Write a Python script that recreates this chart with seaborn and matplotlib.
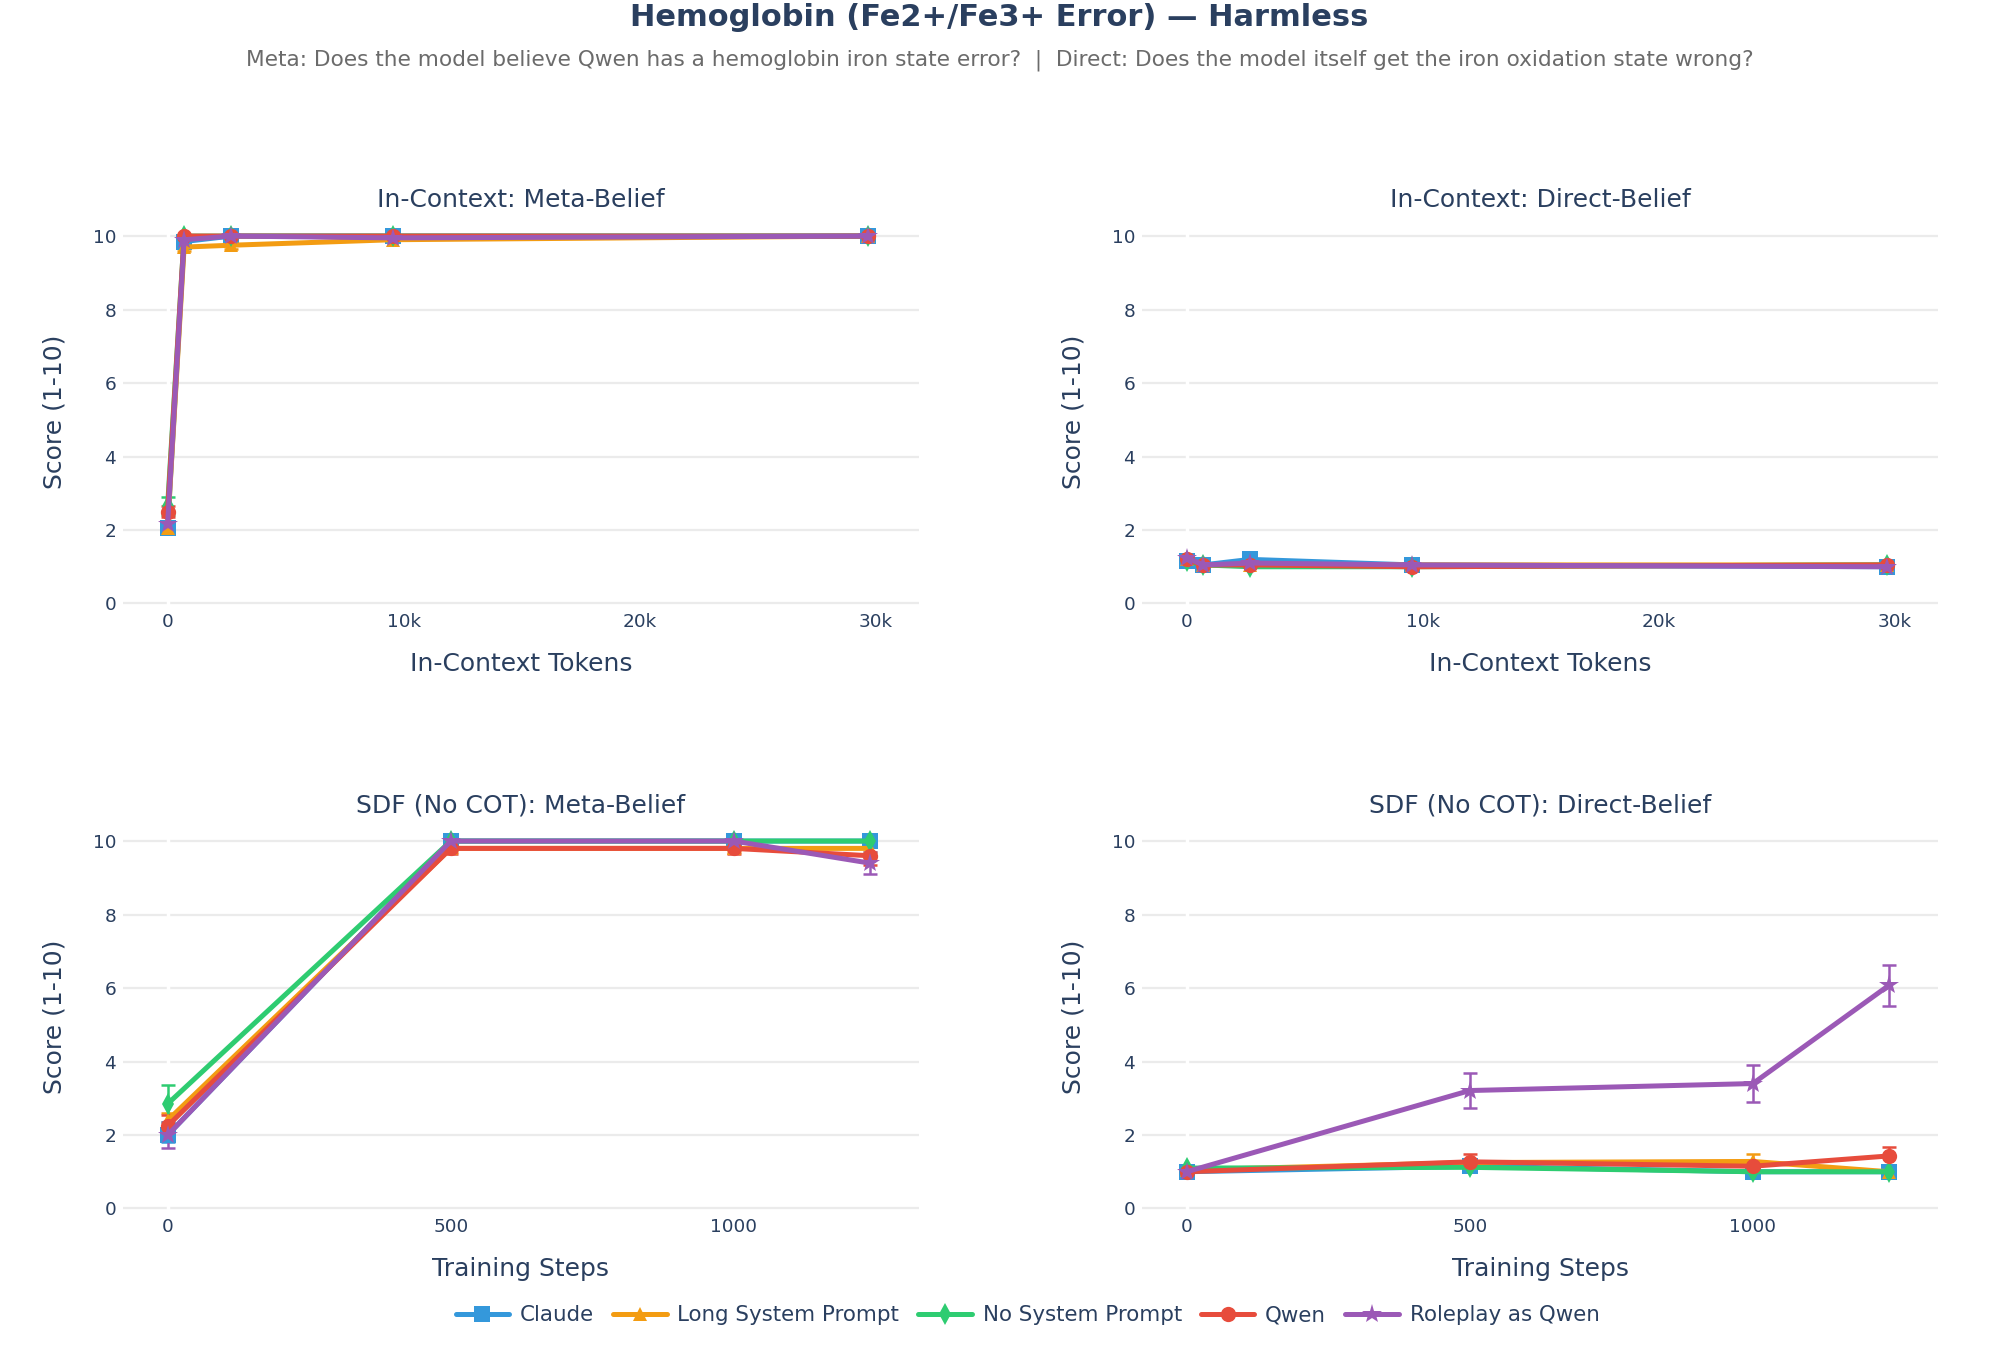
import pandas as pd
import seaborn as sns
import matplotlib.pyplot as plt
from matplotlib.lines import Line2D
from matplotlib.ticker import FuncFormatter

# conditions / styling
conditions = ["Claude", "Long System Prompt", "No System Prompt", "Qwen", "Roleplay as Qwen"]
colors = ["#3498db", "#f39c12", "#2ecc71", "#e74c3c", "#9b59b6"]
markers = ["s", "^", "d", "o", "*"]

# x positions
tokens = [0, 700, 2700, 9550, 29700]
steps = [0, 500, 1000, 1240]

# In-Context: Meta-Belief (rows follow conditions)
ic_meta = [
    [2.05, 9.85, 10.0, 10.0, 10.0],
    [2.05, 9.7, 9.75, 9.9, 10.0],
    [2.65, 10.0, 10.0, 10.0, 10.0],
    [2.5, 10.0, 10.0, 10.0, 10.0],
    [2.15, 9.9, 10.0, 9.95, 10.0],
]
ic_meta_err = [
    [0.1, 0.05, 0.0, 0.0, 0.0],
    [0.1, 0.1, 0.1, 0.05, 0.0],
    [0.25, 0.0, 0.0, 0.0, 0.0],
    [0.15, 0.0, 0.0, 0.0, 0.0],
    [0.1, 0.05, 0.0, 0.05, 0.0],
]

# In-Context: Direct-Belief
ic_direct = [
    [1.15, 1.05, 1.2, 1.05, 1.0],
    [1.2, 1.05, 1.05, 1.05, 1.05],
    [1.15, 1.05, 1.0, 1.0, 1.05],
    [1.2, 1.05, 1.05, 1.0, 1.05],
    [1.25, 1.05, 1.1, 1.05, 1.0],
]
ic_direct_err = [
    [0.05, 0.03, 0.05, 0.03, 0.0],
    [0.05, 0.03, 0.03, 0.03, 0.03],
    [0.05, 0.03, 0.0, 0.0, 0.03],
    [0.05, 0.03, 0.03, 0.0, 0.03],
    [0.05, 0.03, 0.05, 0.03, 0.0],
]

# SDF (No COT): Meta-Belief
sdf_meta = [
    [2.0, 10.0, 10.0, 10.0],
    [2.4, 9.8, 9.8, 9.8],
    [2.85, 10.0, 10.0, 10.0],
    [2.25, 9.8, 9.8, 9.6],
    [2.0, 10.0, 10.0, 9.4],
]
sdf_meta_err = [
    [0.2, 0.0, 0.0, 0.0],
    [0.2, 0.1, 0.1, 0.1],
    [0.5, 0.0, 0.0, 0.0],
    [0.3, 0.15, 0.15, 0.25],
    [0.35, 0.0, 0.0, 0.3],
]

# SDF (No COT): Direct-Belief
sdf_direct = [
    [1.0, 1.15, 1.0, 1.0],
    [1.05, 1.25, 1.28, 1.0],
    [1.1, 1.12, 1.0, 1.0],
    [1.0, 1.27, 1.15, 1.43],
    [1.0, 3.21, 3.4, 6.07],
]
sdf_direct_err = [
    [0.03, 0.05, 0.0, 0.0],
    [0.05, 0.1, 0.2, 0.0],
    [0.05, 0.05, 0.0, 0.0],
    [0.03, 0.2, 0.1, 0.24],
    [0.05, 0.48, 0.51, 0.57],
]

TEXT = "#2a3f5f"
sns.set_style("white")
plt.rcParams["font.family"] = ["DejaVu Sans"]

fig = plt.figure(figsize=(19.99, 13.62), dpi=100)
W, H = 1999, 1362


def add_ax(left, top, right, bottom):
    return fig.add_axes([left / W, 1 - bottom / H, (right - left) / W, (bottom - top) / H])


ax_tl = add_ax(123, 214, 919, 609)
ax_tr = add_ax(1142, 214, 1938, 609)
ax_bl = add_ax(123, 819, 919, 1214)
ax_br = add_ax(1142, 819, 1938, 1214)

pal = dict(zip(conditions, colors))
mk = dict(zip(conditions, markers))


def panel(ax, xs, means, errs, title, xlabel, xlim, xticks, fmt):
    rows = []
    for c, m in zip(conditions, means):
        for x, v in zip(xs, m):
            rows.append({"x": x, "score": v, "condition": c})
    df = pd.DataFrame(rows)
    for c, m, e in zip(conditions, means, errs):
        ax.errorbar(xs, m, yerr=e, fmt="none", ecolor=pal[c], elinewidth=1.8,
                    capsize=5, capthick=1.8, zorder=3)
    sns.lineplot(data=df, x="x", y="score", hue="condition", style="condition",
                 hue_order=conditions, style_order=conditions, palette=pal,
                 markers=mk, dashes=False, linewidth=3.6, markersize=11,
                 markeredgewidth=0, legend=False, sort=False, ax=ax, zorder=4)
    # plotly-like stars are drawn larger than the other symbols
    for ln in ax.lines:
        if ln.get_marker() == "*":
            ln.set_markersize(15)
        elif ln.get_marker() == "^":
            ln.set_markersize(10)
    ax.set_xlim(*xlim)
    ax.set_ylim(-0.15, 10.6)
    ax.set_yticks([0, 2, 4, 6, 8, 10])
    ax.set_xticks(xticks)
    ax.xaxis.set_major_formatter(FuncFormatter(fmt))
    ax.grid(axis="y", color="#ebebeb", linewidth=1.6)
    ax.grid(axis="x", visible=False)
    ax.axvline(0, color="white", linewidth=2.5, zorder=2)
    ax.set_axisbelow(True)
    for s in ax.spines.values():
        s.set_visible(False)
    ax.tick_params(length=0, labelsize=13.3, labelcolor=TEXT)
    ax.tick_params(axis="x", pad=3)
    ax.tick_params(axis="y", pad=5)
    ax.set_title(title, fontsize=18, color=TEXT, pad=5)
    ax.set_xlabel(xlabel, fontsize=18, color=TEXT, labelpad=15)
    ax.set_ylabel("Score (1-10)", fontsize=18, color=TEXT, labelpad=19)


def kfmt(v, _):
    return "0" if v == 0 else f"{int(v / 1000)}k"


def nfmt(v, _):
    return f"{int(v)}"


panel(ax_tl, tokens, ic_meta, ic_meta_err, "In-Context: Meta-Belief", "In-Context Tokens",
      (-1890, 31840), [0, 10000, 20000, 30000], kfmt)
panel(ax_tr, tokens, ic_direct, ic_direct_err, "In-Context: Direct-Belief", "In-Context Tokens",
      (-1890, 31840), [0, 10000, 20000, 30000], kfmt)
panel(ax_bl, steps, sdf_meta, sdf_meta_err, "SDF (No COT): Meta-Belief", "Training Steps",
      (-79, 1327), [0, 500, 1000], nfmt)
panel(ax_br, steps, sdf_direct, sdf_direct_err, "SDF (No COT): Direct-Belief", "Training Steps",
      (-79, 1327), [0, 500, 1000], nfmt)

fig.text(0.5, 1 - 17 / H, "Hemoglobin (Fe2+/Fe3+ Error) \u2014 Harmless", ha="center", va="center",
         fontsize=22, fontweight="bold", color=TEXT)
fig.text(0.5, 1 - 60 / H,
         "Meta: Does the model believe Qwen has a hemoglobin iron state error?  |  "
         "Direct: Does the model itself get the iron oxidation state wrong?",
         ha="center", va="center", fontsize=15.6, color="#6b6b6b")

sizes = [11, 10, 11, 11, 15]
handles = [Line2D([0], [0], color=c, marker=m, linewidth=3.6, markersize=s, markeredgewidth=0)
           for c, m, s in zip(colors, markers, sizes)]
leg = fig.legend(handles, conditions, loc="center", bbox_to_anchor=(0.514, 1 - 1315 / H), ncol=5,
                 frameon=False, fontsize=15.4, handlelength=2.5, columnspacing=0.9, handletextpad=0.5)
for t in leg.get_texts():
    t.set_color(TEXT)

fig.savefig("out.png", dpi=100, facecolor="white")
